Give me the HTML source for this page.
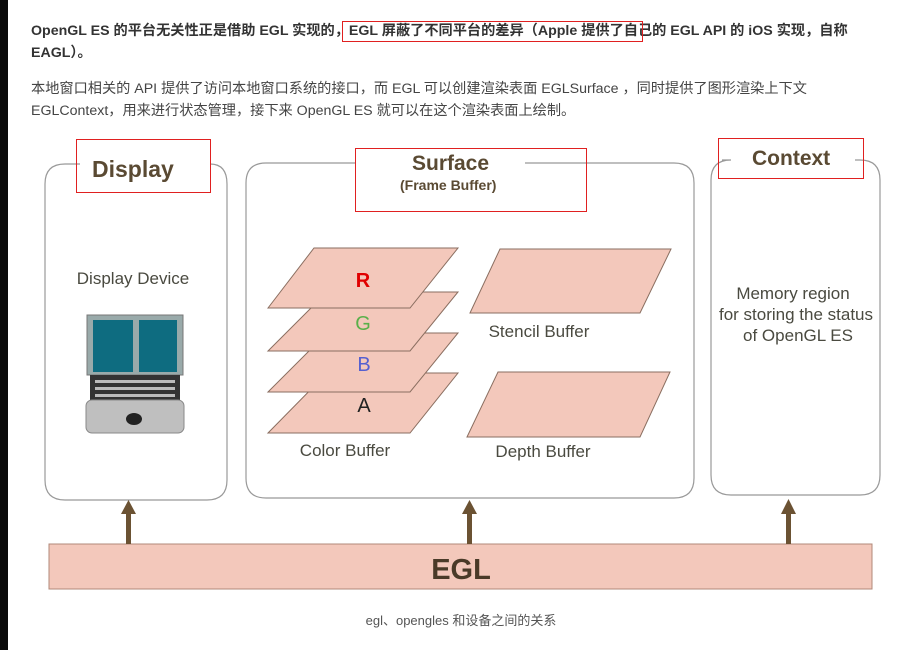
<!DOCTYPE html>
<html><head><meta charset="utf-8"><style>
body{margin:0;width:908px;height:650px;background:#fff;position:relative;overflow:hidden;font-family:"Liberation Sans","Noto Sans CJK SC",sans-serif}
.t{position:absolute;left:31px;font-size:14.2px;color:#333;white-space:nowrap}
</style></head><body>
<div style="position:absolute;left:0;top:0;width:8px;height:650px;background:#0a0a0a"></div>
<div class="t" style="top:20px;font-weight:bold">OpenGL ES 的平台无关性正是借助 EGL 实现的，EGL 屏蔽了不同平台的差异（Apple 提供了自己的 EGL API 的 iOS 实现，自称</div>
<div class="t" style="top:42px;font-weight:bold">EAGL）。</div>
<div style="position:absolute;left:342px;top:21px;width:299px;height:19px;border:1px solid #e02020"></div>
<div class="t" style="top:78px;color:#444">本地窗口相关的 API 提供了访问本地窗口系统的接口，而 EGL 可以创建渲染表面 EGLSurface ，同时提供了图形渲染上下文</div>
<div class="t" style="top:100px;color:#444">EGLContext，用来进行状态管理，接下来 OpenGL ES 就可以在这个渲染表面上绘制。</div>
<svg width="908" height="650" style="position:absolute;left:0;top:0" font-family="Liberation Sans, DejaVu Sans, sans-serif">
<g fill="none" stroke="#999" stroke-width="1.2">
<path d="M80 164 H65 Q45 164 45 184 V480 Q45 500 65 500 H207 Q227 500 227 480 V184 Q227 164 210 164"/>
<path d="M355 163 H266 Q246 163 246 183 V478 Q246 498 266 498 H674 Q694 498 694 478 V183 Q694 163 674 163 H525"/>
<path d="M722 160 H731 Q711 160 711 180 V475 Q711 495 731 495 H860 Q880 495 880 475 V180 Q880 160 860 160 H855"/>
</g>
<g fill="#5a4a33" font-weight="bold">
<text x="92" y="177" font-size="23">Display</text>
<text x="412" y="170" font-size="21">Surface</text>
<text x="400" y="190" font-size="14">(Frame Buffer)</text>
<text x="752" y="165" font-size="21">Context</text>
</g>
<g fill="none" stroke="#e02020" stroke-width="1">
<rect x="76.5" y="139.5" width="134" height="53"/>
<rect x="355.5" y="148.5" width="231" height="63"/>
<rect x="718.5" y="138.5" width="145" height="40"/>
</g>
<g fill="#f3c8bb" stroke="#8a6e60" stroke-width="1">
<polygon points="268,433 327,373 458,373 410,433"/>
<polygon points="268,392 327,333 458,333 410,392"/>
<polygon points="268,351 327,292 458,292 410,351"/>
<polygon points="268,308 314,248 458,248 410,308"/>
<polygon points="470,313 500,249 671,249 640,313"/>
<polygon points="467,437 498,372 670,372 640,437"/>
</g>
<g font-size="20" text-anchor="middle">
<text x="363" y="287" fill="#e00000" font-weight="bold">R</text>
<text x="363" y="330" fill="#5ab04a">G</text>
<text x="364" y="371" fill="#5560d0">B</text>
<text x="364" y="412" fill="#222">A</text>
</g>
<g fill="#4a4a40" font-size="17" text-anchor="middle">
<text x="133" y="284">Display Device</text>
<text x="345" y="456">Color Buffer</text>
<text x="539" y="337">Stencil Buffer</text>
<text x="543" y="457">Depth Buffer</text>
<text x="793" y="299">Memory region</text>
<text x="796" y="320">for storing the status</text>
<text x="798" y="341">of OpenGL ES</text>
</g>
<rect x="87" y="315" width="96" height="60" fill="#9aa" stroke="#777"/>
<rect x="93" y="320" width="40" height="52" fill="#0e6c80"/>
<rect x="139" y="320" width="38" height="52" fill="#0e6c80"/>
<rect x="90" y="375" width="90" height="30" fill="#333"/>
<g fill="#bbb"><rect x="95" y="380" width="80" height="3"/><rect x="95" y="387" width="80" height="3"/><rect x="95" y="394" width="80" height="3"/></g>
<rect x="86" y="400" width="98" height="33" rx="6" fill="#bfbfbf" stroke="#888"/>
<ellipse cx="134" cy="419" rx="8" ry="6" fill="#222"/>
<rect x="49" y="544" width="823" height="45" fill="#f3c8bb" stroke="#b08878"/>
<text x="461" y="579" text-anchor="middle" font-size="29" font-weight="bold" fill="#4a3a28">EGL</text>
<g fill="#6b5233">
<rect x="126" y="512" width="5" height="32"/><polygon points="121,514 128.5,500 136,514"/>
<rect x="467" y="512" width="5" height="32"/><polygon points="462,514 469.5,500 477,514"/>
<rect x="786" y="512" width="5" height="32"/><polygon points="781,514 788.5,499 796,514"/>
</g>
<text x="461" y="625" text-anchor="middle" font-size="13" fill="#555" font-family="Liberation Sans, Noto Sans CJK SC, sans-serif">egl、opengles 和设备之间的关系</text>
</svg>
</body></html>
